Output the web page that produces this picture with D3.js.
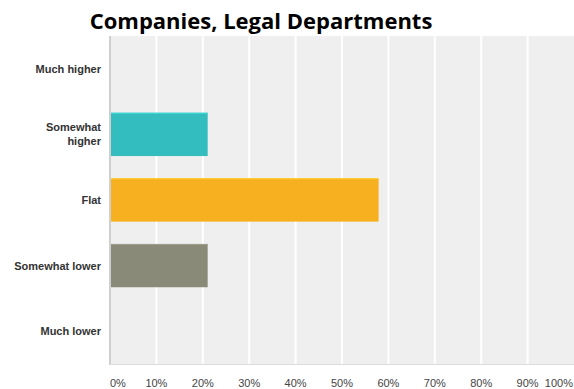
<!DOCTYPE html>
<html>
<head>
<meta charset="utf-8">
<script src="https://cdn.jsdelivr.net/npm/d3@7"></script>
<style>
  html, body { margin: 0; padding: 0; background: #fff; }
  svg { display: block; }
</style>
</head>
<body>
<svg id="chart" width="574" height="389"></svg>
<script>
// Survey responses (% of respondents)
const categories = ["Much higher", "Somewhat higher", "Flat", "Somewhat lower", "Much lower"];
const values = [0, 21.05, 57.89, 21.05, 0];
const barColors = ["#33bdbe", "#33bdbe", "#f7b120", "#8a8a78", "#8a8a78"];
const tickValues = [0, 10, 20, 30, 40, 50, 60, 70, 80, 90, 100];
const title = "Companies, Legal Departments";

const svg = d3.select("#chart");
const margin = { top: 36, right: 0, bottom: 24, left: 110 };
const W = 574, H = 389;
const innerW = W - margin.left - margin.right;
const innerH = H - margin.top - margin.bottom - 1;

const x = d3.scaleLinear().domain([0, 100]).range([margin.left, margin.left + innerW]);
const y = d3.scaleBand().domain(categories)
  .range([margin.top, margin.top + innerH])
  .paddingInner(0.34).paddingOuter(0.17);

// title
svg.append("text")
  .attr("x", 261).attr("y", 29)
  .attr("text-anchor", "middle")
  .attr("font-family", "'Open Sans', sans-serif")
  .attr("font-weight", "bold")
  .attr("font-size", 22)
  .attr("fill", "#000")
  .text(title);

// plot background
svg.append("rect")
  .attr("x", margin.left).attr("y", margin.top)
  .attr("width", innerW).attr("height", innerH)
  .attr("fill", "#efefef");

// vertical gridlines
svg.append("g").selectAll("line")
  .data(tickValues.filter(d => d > 0 && d < 100))
  .join("line")
  .attr("x1", d => x(d)).attr("x2", d => x(d))
  .attr("y1", margin.top).attr("y2", margin.top + innerH)
  .attr("stroke", "#ffffff").attr("stroke-width", 2);

// bars
svg.append("g").selectAll("rect")
  .data(categories.map((c, i) => ({ c, v: values[i], col: barColors[i] })).filter(d => d.v > 0))
  .join("rect")
  .attr("x", x(0))
  .attr("y", d => y(d.c))
  .attr("width", d => x(d.v) - x(0))
  .attr("height", y.bandwidth())
  .attr("fill", d => d.col);

// bar top highlight
svg.append("g").selectAll("line")
  .data(categories.map((c, i) => ({ c, v: values[i], col: barColors[i] })).filter(d => d.v > 0))
  .join("line")
  .attr("x1", x(0)).attr("x2", d => x(d.v))
  .attr("y1", d => y(d.c) + 0.5).attr("y2", d => y(d.c) + 0.5)
  .attr("stroke", d => d3.color(d.col).brighter(0.4)).attr("stroke-width", 1);

// axis lines
svg.append("line")
  .attr("x1", margin.left).attr("x2", margin.left)
  .attr("y1", margin.top).attr("y2", margin.top + innerH + 1)
  .attr("stroke", "#cfcfcf").attr("stroke-width", 2);
svg.append("line")
  .attr("x1", margin.left).attr("x2", margin.left + innerW)
  .attr("y1", margin.top + innerH + 0.5).attr("y2", margin.top + innerH + 0.5)
  .attr("stroke", "#dcdcdc").attr("stroke-width", 1);

// category labels
svg.append("g").selectAll("text")
  .data(categories)
  .join("text")
  .attr("text-anchor", "end")
  .attr("font-family", "Arial, 'Liberation Sans', sans-serif")
  .attr("font-weight", "bold")
  .attr("font-size", 11)
  .attr("fill", "#333")
  .each(function (d) {
    const t = d3.select(this);
    const cy = y(d) + y.bandwidth() / 2;
    const lines = d === "Somewhat higher" ? ["Somewhat", "higher"] : [d];
    const lh = 14;
    lines.forEach((ln, i) => {
      t.append("tspan")
        .attr("x", 101)
        .attr("y", cy + 4 + (i - (lines.length - 1) / 2) * lh)
        .text(ln);
    });
  });

// x tick labels
svg.append("g").selectAll("text")
  .data(tickValues)
  .join("text")
  .attr("x", d => d === 0 ? x(d) : d === 100 ? x(d) - 1 : x(d))
  .attr("y", 387)
  .attr("text-anchor", d => d === 0 ? "start" : d === 100 ? "end" : "middle")
  .attr("font-family", "Arial, 'Liberation Sans', sans-serif")
  .attr("font-size", 11)
  .attr("fill", "#444")
  .text(d => d + "%");
</script>
</body>
</html>
